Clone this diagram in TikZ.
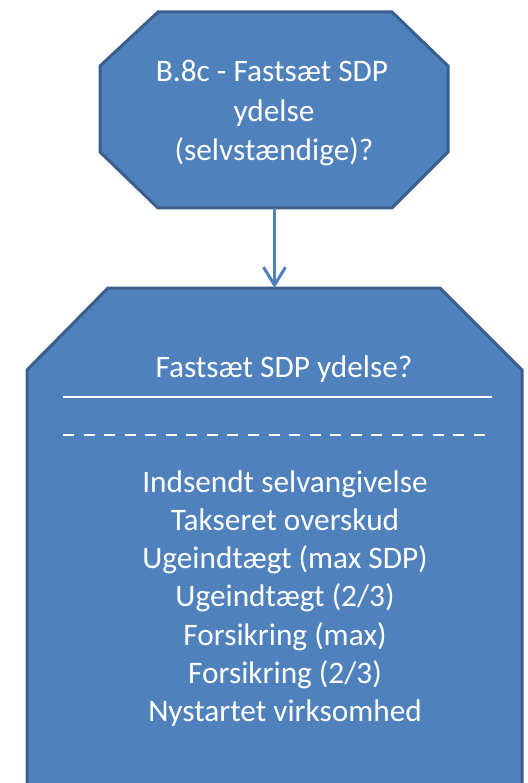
\documentclass[tikz,border=0pt]{standalone}
\usepackage{fontspec}
\setmainfont{Carlito}
\usetikzlibrary{arrows.meta}
\definecolor{boxfill}{HTML}{4F81BD}
\definecolor{boxedge}{HTML}{3A5F8C}
\tikzset{
  octo/.style={fill=boxfill, draw=boxedge, line width=3pt, line join=miter},
  label/.style={text=white, align=center, inner sep=0pt, anchor=base, font=\fontsize{31.3}{39}\selectfont},
  conn/.style={draw=boxfill, line width=3pt, -{Straight Barb[length=18pt,width=22pt,line width=3pt]}},
  rule/.style={draw=white, line width=2pt},
}
\begin{document}
\begin{tikzpicture}[x=1pt,y=-1pt]
\useasboundingbox (0,0) rectangle (527,783);
\begin{scope}
\clip (0,0) rectangle (527,783);
% top octagon
\draw[octo] (158,12) -- (392,12) -- (448,66) -- (448,152) -- (392,208) -- (158,208) -- (100,152) -- (100,66) -- cycle;
% bottom octagon (cut off at the bottom)
\draw[octo] (108,288) -- (440,288) -- (522,370) -- (522,900) -- (440,980) -- (108,980) -- (27,900) -- (27,370) -- cycle;
\end{scope}
\coordinate (topS) at (274.5,208);
\coordinate (botN) at (274.5,288);
\node[label] (t1) at (272,82) {B.8c - Fastsæt SDP};
\node[label] (t2) at (274,121.5) {ydelse};
\node[label] (t3) at (274,161) {(selvstændige)?};
\draw[conn] (topS) -- (botN);
\node[label] (head) at (284,377) {Fastsæt SDP ydelse?};
\coordinate (r1a) at (63,397);
\coordinate (r1b) at (492,397);
\draw[rule] (r1a) -- (r1b);
\coordinate (r2a) at (63,435);
\coordinate (r2b) at (485,435);
\draw[rule, dash pattern=on 11pt off 9.55pt] (r2a) -- (r2b);
\node[label] (l1) at (285,492) {Indsendt selvangivelse};
\node[label] (l2) at (285,530.3) {Takseret overskud};
\node[label] (l3) at (285,568.6) {Ugeindtægt (max SDP)};
\node[label] (l4) at (285,606.9) {Ugeindtægt (2/3)};
\node[label] (l5) at (285,645.2) {Forsikring (max)};
\node[label] (l6) at (285,683.5) {Forsikring (2/3)};
\node[label] (l7) at (285,721.8) {Nystartet virksomhed};
\end{tikzpicture}
\end{document}
